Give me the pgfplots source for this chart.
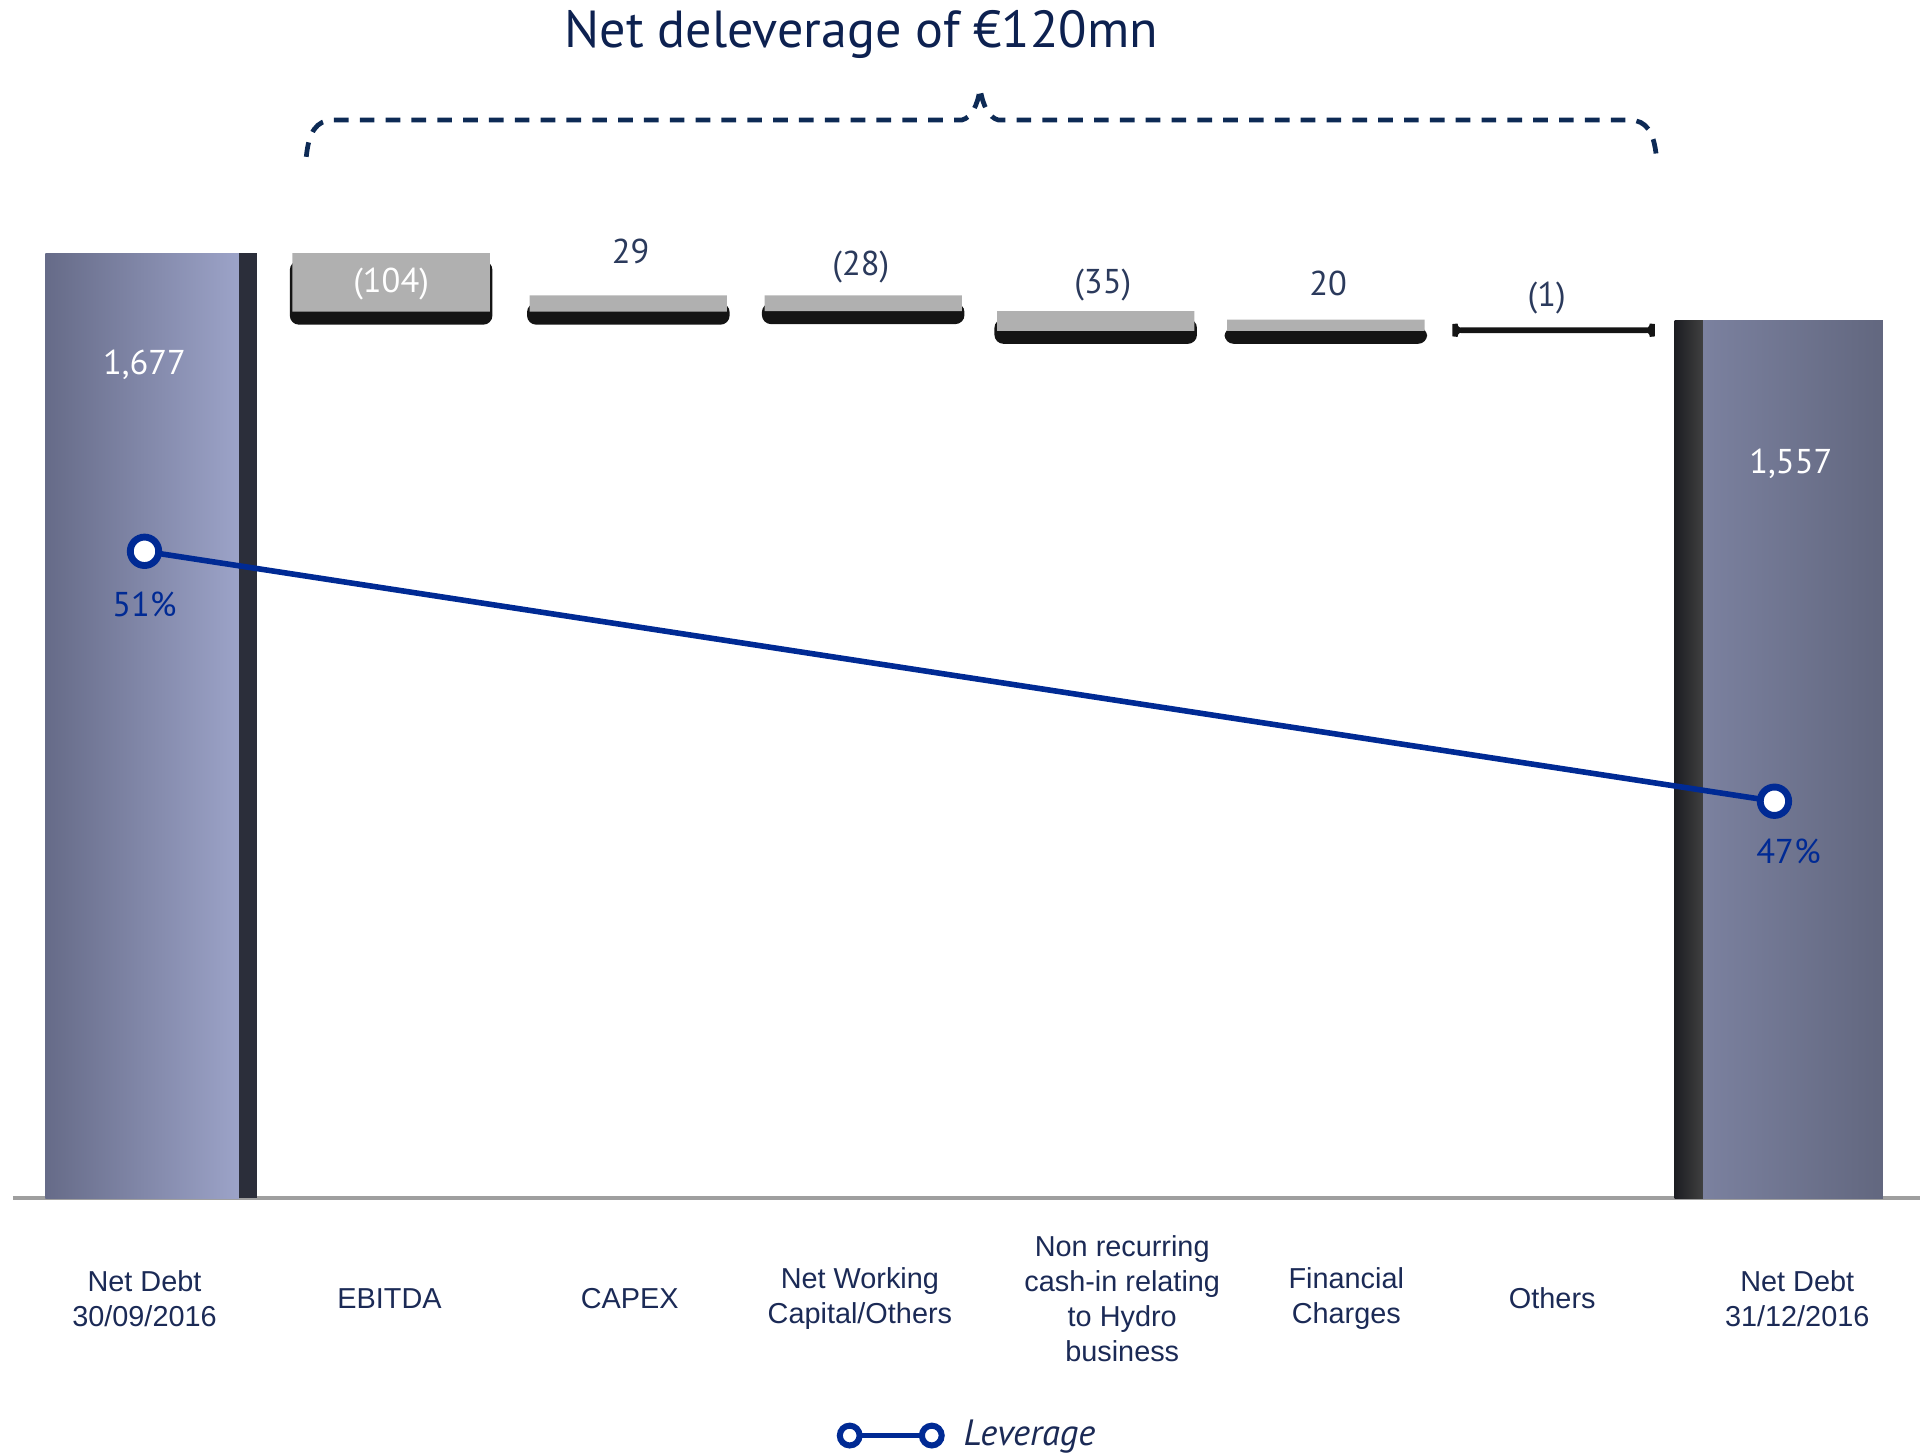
\documentclass[border=0pt]{standalone}
\usepackage{pgfplots}
\pgfplotsset{compat=1.18}
\usepackage{fontspec}
\setmainfont{Liberation Sans}
\newfontfamily\gill{PT Sans}
\definecolor{navy}{HTML}{0D2150}
\definecolor{labnavy}{HTML}{1B2A56}
\definecolor{valc}{HTML}{2B3A5C}
\definecolor{levblue}{HTML}{002A94}
\definecolor{braceblue}{HTML}{0D2A55}
\definecolor{lface1}{HTML}{666B88}
\definecolor{lface2}{HTML}{9CA3C8}
\definecolor{rface1}{HTML}{7B819F}
\definecolor{rface2}{HTML}{62677F}
\definecolor{lside}{HTML}{2B2E3A}
\definecolor{rside}{HTML}{1C1D22}
\definecolor{slab}{HTML}{B0B0B0}
\pgfplotsset{base/.style={at={(0.106cm,2.10cm)}, anchor=south west, scale only axis,
  width=15.566cm, height=8.28cm, xmin=-0.56, xmax=7.56, clip=false}}
\tikzset{val/.style={font=\gill\fontsize{8}{9.6}\selectfont, text=valc}}
\begin{document}
\begin{tikzpicture}
\path[use as bounding box] (0,0) rectangle (15.68,11.88);
% title and brace
\node[font=\gill\fontsize{12.1}{14.5}\selectfont, text=navy] at (7.03,11.60) {Net deleverage of €120mn};
\draw[braceblue, line width=1.1pt, dash pattern=on 3.4pt off 2.6pt]
  (2.50,10.60) .. controls (2.52,10.80) and (2.58,10.90) .. (2.72,10.90) -- (7.85,10.90)
  .. controls (7.93,10.92) and (7.98,11.02) .. (8.00,11.16)
  .. controls (8.02,11.02) and (8.07,10.92) .. (8.15,10.90) -- (13.30,10.90)
  .. controls (13.44,10.90) and (13.50,10.80) .. (13.52,10.60);
% axis A: net debt bars and categories
\begin{axis}[base, ymin=0, ymax=1800, axis y line=none, axis x line=bottom,
  x axis line style={-, draw=gray!75, line width=1pt},
  xtick={0,1.043,2.066,3.046,4.163,5.117,5.994,7.037},
  xticklabels={{Net Debt\\30/09/2016},EBITDA,CAPEX,{Net Working\\Capital/Others},{Non recurring\\cash-in relating\\to Hydro\\business},{Financial\\Charges},Others,{Net Debt\\31/12/2016}},
  major tick length=0pt,
  xticklabel style={anchor=center, yshift=-8.2mm, align=center, font=\fontsize{6.7}{8.1}\selectfont, text=labnavy}]
\addplot[ybar, bar width=0.824, bar shift=-0.01, draw=none, left color=lface1, right color=lface2] coordinates {(0,1677)};
\addplot[ybar, bar width=0.078, bar shift=0.441, draw=none, fill=lside] coordinates {(0,1677)};
\addplot[ybar, bar width=0.767, bar shift=0.018, draw=none, left color=rface1, right color=rface2] coordinates {(7,1557)};
\addplot[ybar, bar width=0.12, bar shift=-0.425, draw=none, left color=rside, right color=black!75] coordinates {(7,1557)};
\node[val, text=levblue] at (axis cs:0,1054) {51\%};
\node[val, text=levblue] at (axis cs:7.0,615) {47\%};
\node[val, text=white] at (axis cs:0,1478) {1,677};
\node[val, text=white] at (axis cs:7.01,1304) {1,557};
\end{axis}
% axis C0: slab shadows
\begin{axis}[base, ymin=0, ymax=1800, hide axis, ybar stacked, bar width=0.84]
\addplot[draw=none, fill=none] coordinates {(1.05,1573) (2.06,1573) (3.06,1574) (4.05,1539) (5.03,1539) (6,1558)};
\addplot[draw=black!92, line width=1.2pt, fill=black!92, rounded corners=1.5pt, yshift=-2.4pt] coordinates {(1.05,104) (2.06,29) (3.06,28) (4.05,35) (5.03,20) (6,1)};
\end{axis}
% axis C: floating bars
\begin{axis}[base, ymin=0, ymax=1800, hide axis, ybar stacked, bar width=0.84]
\addplot[draw=none, fill=none] coordinates {(1.05,1573) (2.06,1573) (3.06,1574) (4.05,1539) (5.03,1539) (6,1558)};
\addplot[draw=none, fill=slab] coordinates {(1.05,104) (2.06,29) (3.06,28) (4.05,35) (5.03,20)};
\end{axis}
% axis D: value labels
\begin{axis}[base, ymin=0, ymax=1800, hide axis]
\node[val, text=white] at (axis cs:1.05,1622) {(104)};
\node[val] at (axis cs:2.07,1680) {29};
\node[val] at (axis cs:3.05,1652) {(28)};
\node[val] at (axis cs:4.08,1620) {(35)};
\node[val] at (axis cs:5.04,1624) {20};
\node[val] at (axis cs:5.97,1598) {(1)};
\end{axis}
% axis B: leverage
\begin{axis}[base, ymin=40.647, ymax=56.882, hide axis,
  legend style={at={(0.502,-0.234)}, anchor=center, draw=none, fill=none,
    font=\gill\itshape\fontsize{8.5}{10}\selectfont, text=labnavy},
  legend image code/.code={
    \draw[levblue, line width=1.2pt] (0cm,0cm) -- (0.67cm,0cm);
    \draw[levblue, line width=1.4pt, fill=white] (0cm,0cm) circle (2.3pt);
    \draw[levblue, line width=1.4pt, fill=white] (0.67cm,0cm) circle (2.3pt);
    \path[draw=none, fill=none] (0.67cm,0cm) rectangle (0.86cm,0.01cm);}]
\addplot[levblue, line width=1.3pt, mark=*, mark size=3.3pt,
  mark options={fill=white, draw=levblue, line width=1.6pt}] coordinates {(0,51) (6.94,47)};
\addlegendentry{Leverage}
\end{axis}
\end{tikzpicture}
\end{document}
